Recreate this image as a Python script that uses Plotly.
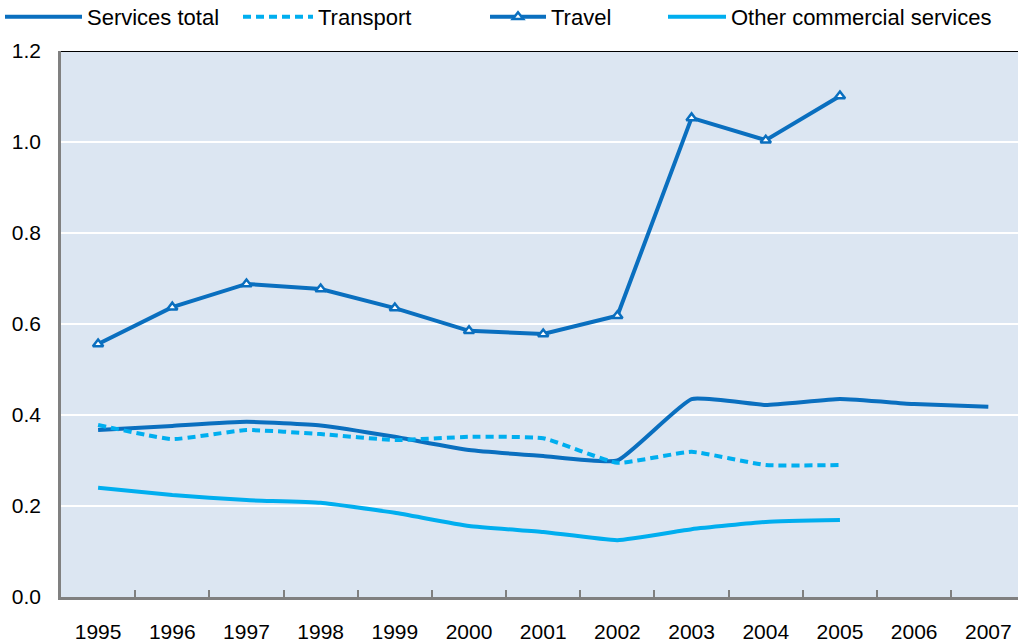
import plotly.graph_objects as go

years = [str(y) for y in range(1995, 2008)]
services_total = [0.367, 0.376, 0.385, 0.377, 0.352, 0.323, 0.310, 0.300, 0.435, 0.422, 0.435, 0.424, 0.418]
transport = [0.378, 0.347, 0.367, 0.358, 0.345, 0.352, 0.349, 0.295, 0.319, 0.290, 0.290]
travel = [0.556, 0.637, 0.688, 0.677, 0.635, 0.585, 0.578, 0.618, 1.053, 1.004, 1.101]
other = [0.240, 0.224, 0.213, 0.207, 0.185, 0.156, 0.143, 0.125, 0.149, 0.165, 0.169]
yticks = [0.0, 0.2, 0.4, 0.6, 0.8, 1.0, 1.2]

dark = "#0a6fbf"
light = "#00aeef"

fig = go.Figure()
fig.add_trace(go.Scatter(x=years, y=services_total, name="Services total", mode="lines",
                         legend="legend",
                         line=dict(color=dark, width=4, shape="spline", smoothing=0.4)))
fig.add_trace(go.Scatter(x=years[:len(transport)], y=transport, name="Transport", mode="lines",
                         legend="legend2",
                         line=dict(color=light, width=4, dash="8px,5px", shape="spline", smoothing=0.4)))
fig.add_trace(go.Scatter(x=years[:len(travel)], y=travel, name="Travel", mode="lines+markers",
                         legend="legend3",
                         line=dict(color=dark, width=4),
                         marker=dict(symbol="triangle-up", size=9, color="white",
                                     line=dict(color=dark, width=2.5))))
fig.add_trace(go.Scatter(x=years[:len(other)], y=other, name="Other commercial services", mode="lines",
                         legend="legend4",
                         line=dict(color=light, width=4, shape="spline", smoothing=0.4)))

PLOT_TOP = 51
PLOT_H = 643 - 51 - 46


def leg(x_px, item_w):
    return dict(orientation="h", x=x_px / 1018, xanchor="left", xref="container",
                y=1 + (PLOT_TOP + 4) / PLOT_H, yanchor="top", yref="paper", font=dict(size=22),
                itemwidth=item_w, bgcolor="rgba(0,0,0,0)")


fig.update_layout(
    width=1018, height=643,
    margin=dict(l=61, r=0, t=51, b=46, autoexpand=False),
    paper_bgcolor="white",
    plot_bgcolor="#dce6f2",
    font=dict(family="Liberation Sans, Arial, sans-serif", size=21, color="black"),
    showlegend=True,
    legend=leg(0, 77),
    legend2=leg(238, 70),
    legend3=leg(485, 56),
    legend4=leg(663, 58),
    xaxis=dict(type="category", range=[-0.5, 12.4], showgrid=False, automargin=False,
               showline=True, linecolor="#808080", linewidth=2.5,
               ticks="inside", tickson="boundaries", ticklen=7, tickwidth=2, tickcolor="#808080",
               ticklabelstandoff=14, zeroline=False),
    yaxis=dict(range=[0, 1.2], tickvals=yticks, tickformat=".1f", showgrid=True, automargin=False,
               gridcolor="white", gridwidth=2, showline=True, linecolor="#808080", linewidth=2.5,
               ticks="", zeroline=False, ticklabelstandoff=13),
    shapes=[dict(type="line", xref="paper", yref="y", x0=0, x1=1, y0=1.2, y1=1.2,
                 line=dict(color="black", width=2))],
)

fig.write_html("out.html", config={"displayModeBar": False},
               post_script="document.body.style.margin='0';document.body.style.overflow='hidden';")
